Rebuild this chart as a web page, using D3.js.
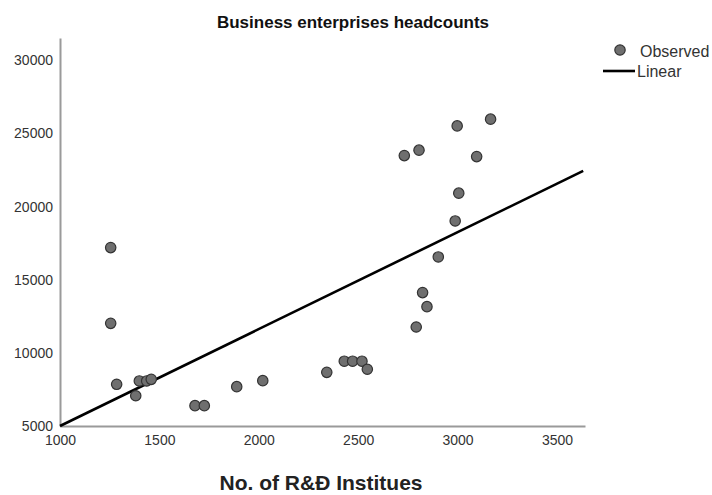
<!DOCTYPE html>
<html>
<head>
<meta charset="utf-8">
<script src="https://cdn.jsdelivr.net/npm/d3@7"></script>
<style>
  html, body { margin: 0; padding: 0; background: #fff; }
  svg { display: block; font-family: "Liberation Sans", Arial, sans-serif; }
</style>
</head>
<body>
<svg id="chart" width="712" height="495"></svg>
<script>
// Number of R&D institutes per observation
const institutes = [
  1255, 1255, 1285, 1381, 1399, 1436, 1459, 1679, 1726, 1889, 2020,
  2342, 2430, 2472, 2519, 2546,
  2732, 2806, 2998, 3166, 3096, 3006, 2988, 2903, 2824, 2846, 2792
];
// Business enterprise headcounts per observation
const headcounts = [
  17200, 12020, 7850, 7070, 8080, 8080, 8190, 6390, 6390, 7690, 8100,
  8670, 9430, 9430, 9430, 8880,
  23490, 23860, 25520, 25980, 23420, 20920, 19020, 16560, 14120, 13160, 11770
];
// Linear fit: headcounts = intercept + slope * institutes
const fitIntercept = -1627;
const fitSlope = 6.627;
const fitRange = [1000, 3632];

const xTicks = [1000, 1500, 2000, 2500, 3000, 3500];
const yTicks = [5000, 10000, 15000, 20000, 25000, 30000];
const xDomain = [1000, 3641];
const yDomain = [5000, 31530];

const svg = d3.select("#chart");
const plot = { left: 60, right: 585, top: 38, bottom: 426 };

const x = d3.scaleLinear().domain(xDomain).range([plot.left, plot.right]);
const y = d3.scaleLinear().domain(yDomain).range([plot.bottom, plot.top]);

// Title
svg.append("text")
  .attr("x", 353).attr("y", 28)
  .attr("text-anchor", "middle")
  .attr("font-size", 17).attr("font-weight", "bold")
  .attr("fill", "#111")
  .text("Business enterprises headcounts");

// Axes (no tick marks, grey axis lines)
const xAxis = svg.append("g")
  .attr("transform", `translate(0,${plot.bottom})`)
  .call(d3.axisBottom(x).tickValues(xTicks).tickSize(0).tickPadding(9).tickFormat(d3.format("d")));
const yAxis = svg.append("g")
  .attr("transform", `translate(${plot.left},0)`)
  .call(d3.axisLeft(y).tickValues(yTicks).tickSize(0).tickPadding(7).tickFormat(d3.format("d")));

[xAxis, yAxis].forEach(g => {
  g.select(".domain").attr("stroke", "#9a9a9a").attr("stroke-width", 2);
  g.selectAll("text")
    .attr("font-family", "'Liberation Sans', Arial, sans-serif")
    .attr("font-size", 14).attr("fill", "#333");
});

// Fit line
const fitPoints = fitRange.map(v => [v, fitIntercept + fitSlope * v]);
svg.append("path")
  .datum(fitPoints)
  .attr("fill", "none")
  .attr("stroke", "#000")
  .attr("stroke-width", 2.6)
  .attr("d", d3.line().x(d => x(d[0])).y(d => y(d[1])));

// Observed points
svg.append("g").selectAll("circle")
  .data(institutes.map((v, i) => [v, headcounts[i]]))
  .join("circle")
  .attr("cx", d => x(d[0]))
  .attr("cy", d => y(d[1]))
  .attr("r", 5.2)
  .attr("fill", "#6f6f6f")
  .attr("stroke", "#333")
  .attr("stroke-width", 1.2);

// Legend
const legend = svg.append("g");
legend.append("circle")
  .attr("cx", 620).attr("cy", 50).attr("r", 5.2)
  .attr("fill", "#6f6f6f").attr("stroke", "#333").attr("stroke-width", 1.2);
legend.append("text")
  .attr("x", 640).attr("y", 57)
  .attr("font-size", 16).attr("fill", "#333")
  .text("Observed");
legend.append("line")
  .attr("x1", 603).attr("x2", 635).attr("y1", 71).attr("y2", 71)
  .attr("stroke", "#000").attr("stroke-width", 2.6);
legend.append("text")
  .attr("x", 637).attr("y", 77)
  .attr("font-size", 16).attr("fill", "#333")
  .text("Linear");

// X axis title
svg.append("text")
  .attr("x", 321).attr("y", 490)
  .attr("text-anchor", "middle")
  .attr("font-size", 21).attr("font-weight", "bold")
  .attr("fill", "#222")
  .text("No. of R&Đ Institues");
</script>
</body>
</html>
